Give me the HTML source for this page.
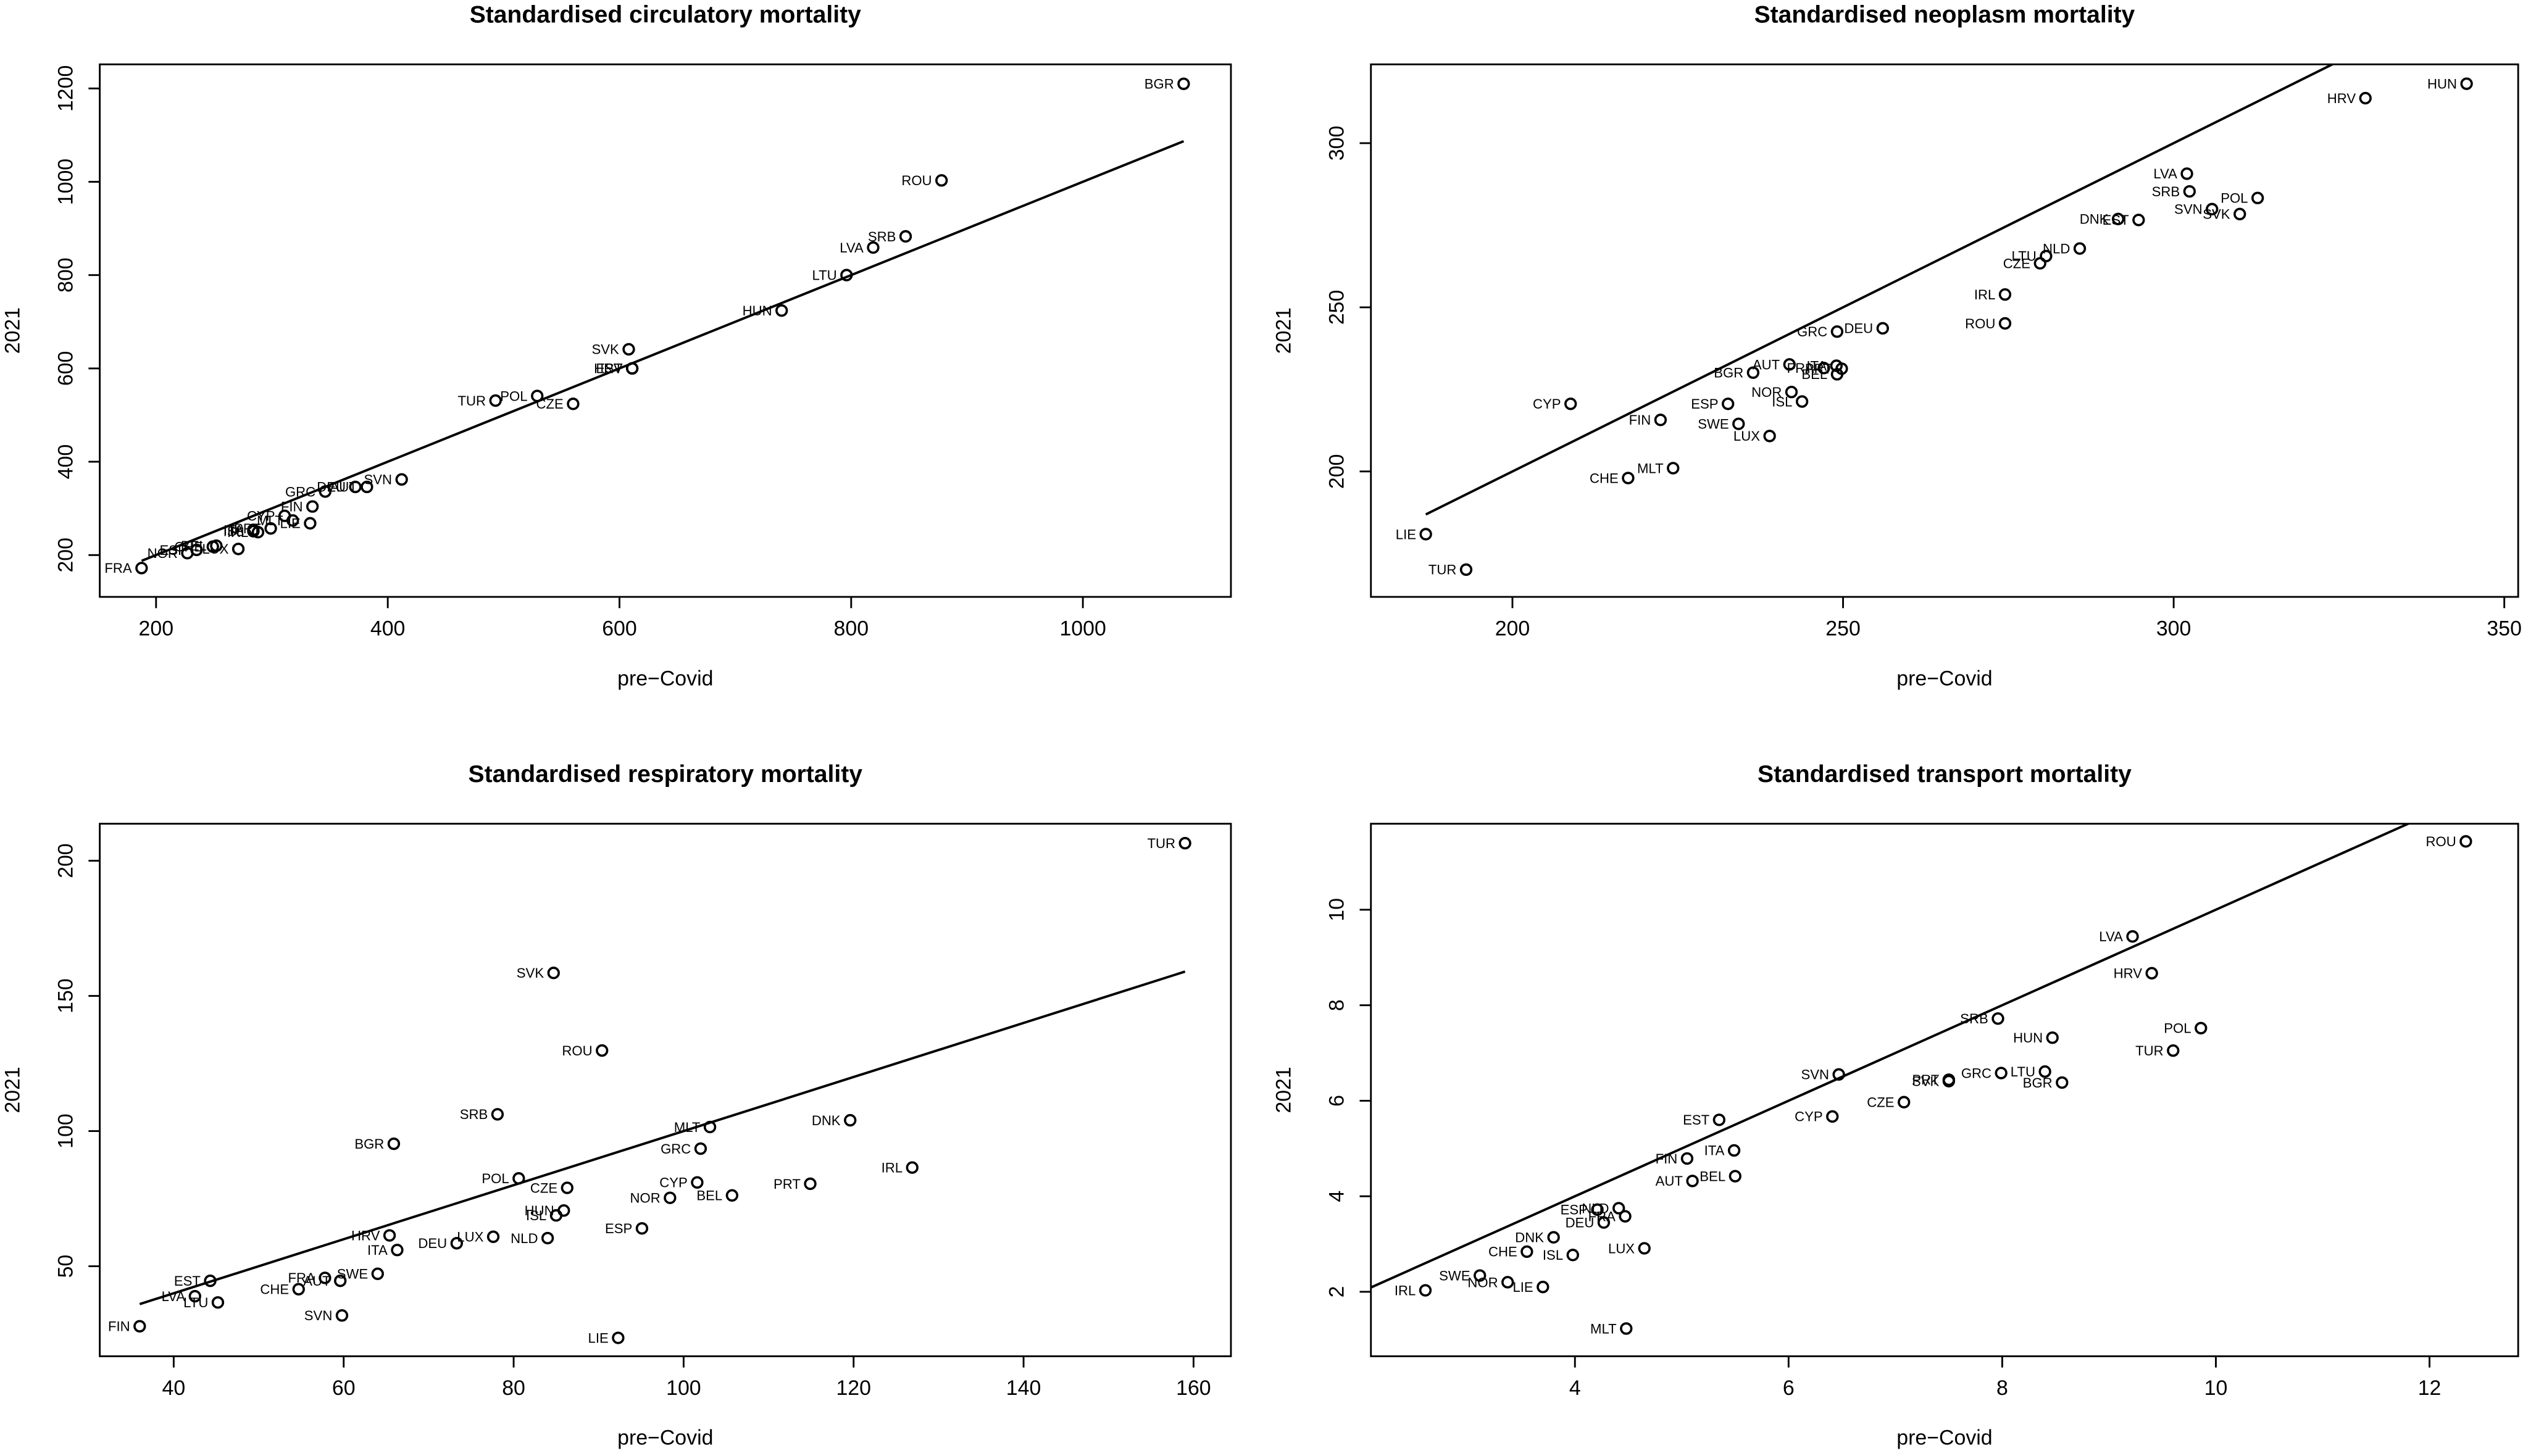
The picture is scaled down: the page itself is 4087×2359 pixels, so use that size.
<!DOCTYPE html>
<html><head><meta charset="utf-8"><title>Standardised mortality scatterplots</title>
<style>
html,body{margin:0;padding:0;background:#fff;}
svg{display:block;font-family:"Liberation Sans",Arial,sans-serif;}
</style></head>
<body>
<svg id="chart" width="4087" height="2359" viewBox="0 0 1568 905" preserveAspectRatio="none" xmlns="http://www.w3.org/2000/svg"></svg>
<script>
// ---------- Panel 1: circulatory ----------
const circCountries = ["BGR","ROU","SRB","LVA","LTU","HUN","SVK","HRV","EST","POL","TUR","CZE","SVN","GRC","DEU","AUT","FIN","CYP","MLT","LIE","ITA","ISL","IRL","PRT","NOR","ESP","CHE","BEL","LUX","FRA"];
const circPre  = [1087,878,847,819,796,740,608,611,611,529,493,560,412,346,372,382,335,311,318,333,284,284,288,299,227,235,249,252,271,187.5];
const circPost = [1210,1003,883,859,800,724,641,600,600,541,531,524,362,336,346,346,304,284,274,268,254,251,249,257,204,211,218,220,213,172];
const circXTicks = [200,400,600,800,1000];
const circYTicks = [200,400,600,800,1000,1200];
const circLine = [187.5,1087];

// ---------- Panel 2: neoplasm ----------
const neoCountries = ["HUN","HRV","LVA","SRB","POL","SVN","SVK","DNK","EST","NLD","LTU","CZE","IRL","ROU","DEU","GRC","AUT","ITA","FRA","PRT","BEL","BGR","NOR","ISL","ESP","SWE","CYP","FIN","LUX","MLT","CHE","LIE","TUR"];
const neoPre  = [344.3,329,302,302.4,312.7,305.8,310,291.6,294.7,285.8,280.7,279.8,274.5,274.5,256,249.1,241.9,249,247.1,249.8,249.1,236.4,242.2,243.8,232.6,234.2,208.8,222.4,238.9,224.3,217.5,186.9,193];
const neoPost = [318.1,313.7,290.7,285.3,283.3,279.9,278.4,276.9,276.6,267.9,265.6,263.4,253.9,245.1,243.6,242.6,232.6,232.2,231.5,231.3,229.6,230.1,224.2,221.3,220.6,214.5,220.6,215.7,210.8,201,198,180.9,170.1];
const neoXTicks = [200,250,300,350];
const neoYTicks = [200,250,300];
const neoLine = [186.9,352];

// ---------- Panel 3: respiratory ----------
const respCountries = ["TUR","SVK","ROU","SRB","BGR","DNK","MLT","GRC","IRL","PRT","POL","CZE","CYP","NOR","BEL","HUN","ISL","ESP","NLD","LUX","DEU","HRV","ITA","SWE","FRA","AUT","CHE","EST","LVA","LTU","SVN","FIN","LIE"];
const respPre  = [159.0,84.7,90.4,78.1,65.9,119.6,103.1,102,126.9,114.9,80.6,86.3,101.6,98.4,105.7,85.9,85,95.1,84,77.6,73.3,65.4,66.3,64,57.8,59.6,54.7,44.3,42.5,45.2,59.8,36,92.3];
const respPost = [206.5,158.5,129.8,106.2,95.3,104,101.5,93.5,86.5,80.5,82.5,79,81,75.3,76.2,70.6,68.8,64,60.4,60.9,58.5,61.4,56,47.2,45.7,44.6,41.5,44.6,38.9,36.6,31.8,27.8,23.5];
const respXTicks = [40,60,80,100,120,140,160];
const respYTicks = [50,100,150,200];
const respLine = [36,159];

// ---------- Panel 4: transport ----------
const transCountries = ["ROU","LVA","HRV","SRB","HUN","POL","TUR","SVN","PRT","SVK","GRC","LTU","BGR","CZE","EST","CYP","ITA","FIN","AUT","BEL","ESP","NLD","FRA","DEU","DNK","CHE","ISL","LUX","SWE","NOR","LIE","IRL","MLT"];
const transPre  = [12.34,9.22,9.4,7.96,8.47,9.86,9.6,6.47,7.5,7.5,7.99,8.4,8.56,7.08,5.35,6.41,5.49,5.05,5.1,5.5,4.21,4.41,4.47,4.27,3.8,3.55,3.98,4.65,3.11,3.37,3.7,2.6,4.48];
const transPost = [11.43,9.44,8.67,7.72,7.32,7.52,7.05,6.55,6.44,6.41,6.58,6.61,6.38,5.97,5.6,5.67,4.96,4.79,4.32,4.42,3.72,3.75,3.58,3.45,3.14,2.84,2.77,2.91,2.34,2.2,2.1,2.03,1.23];
const transXTicks = [4,6,8,10,12];
const transYTicks = [2,4,6,8,10];
const transLine = [1.2,12.4];

const NS = "http://www.w3.org/2000/svg";
const svg = document.getElementById("chart");
function mk(tag, attrs, parent) {
  const e = document.createElementNS(NS, tag);
  for (const k in attrs) e.setAttribute(k, attrs[k]);
  (parent || svg).appendChild(e);
  return e;
}

function drawPanel(cfg) {
  const g = mk("g", {});
  
  
  const sx = v => cfg.x0 + (v - cfg.xmin) / (cfg.xmax - cfg.xmin) * (cfg.x1 - cfg.x0);
  const sy = v => cfg.y1 - (v - cfg.ymin) / (cfg.ymax - cfg.ymin) * (cfg.y1 - cfg.y0);

  const clipId = cfg.name + "-clip";
  const cp = mk("clipPath", {id: clipId}, g);
  mk("rect", {x: cfg.x0, y: cfg.y0, width: cfg.x1 - cfg.x0, height: cfg.y1 - cfg.y0}, cp);

  const t = mk("text", {x: (cfg.x0 + cfg.x1) / 2, y: cfg.y0 - 26, "text-anchor": "middle", "font-size": 15, "font-weight": "bold"}, g);
  t.textContent = cfg.title;
  
  

  const box = mk("rect", {x: cfg.x0, y: cfg.y0, width: cfg.x1 - cfg.x0, height: cfg.y1 - cfg.y0, fill: "none", stroke: "#000", "stroke-width": 1.1}, g);
  
  

  const xa = mk("g", {}, g);
  
  
  cfg.xt.forEach(v => {
    const x = sx(v);
    mk("line", {x1: x, x2: x, y1: cfg.y1, y2: cfg.y1 + 7, stroke: "#000", "stroke-width": 1.1}, xa);
    const tx = mk("text", {x: x, y: cfg.y1 + 24, "text-anchor": "middle", "font-size": 13}, xa);
    tx.textContent = v;
    
    
  });
  const xt = mk("text", {x: (cfg.x0 + cfg.x1) / 2, y: cfg.y1 + 55, "text-anchor": "middle", "font-size": 13}, g);
  xt.textContent = "pre\u2212Covid";
  
  

  const ya = mk("g", {}, g);
  
  
  cfg.yt.forEach(v => {
    const y = sy(v);
    mk("line", {x1: cfg.x0 - 7, x2: cfg.x0, y1: y, y2: y, stroke: "#000", "stroke-width": 1.1}, ya);
    const ty = mk("text", {x: cfg.x0 - 17, y: y, "text-anchor": "middle", "font-size": 13, transform: `rotate(-90 ${cfg.x0 - 17} ${y})`}, ya);
    ty.textContent = v;
    
    
  });
  const yx = cfg.x0 - 50, ym = (cfg.y0 + cfg.y1) / 2;
  const yt = mk("text", {x: yx, y: ym, "text-anchor": "middle", "font-size": 13, transform: `rotate(-90 ${yx} ${ym})`}, g);
  yt.textContent = "2021";
  
  

  const ln = mk("line", {x1: sx(cfg.line[0]), y1: sy(cfg.line[0]), x2: sx(cfg.line[1]), y2: sy(cfg.line[1]), stroke: "#000", "stroke-width": 1.5, "clip-path": `url(#${clipId})`}, g);
  
  

  cfg.names.forEach((c, i) => {
    const px = sx(cfg.pre[i]), py = sy(cfg.post[i]);
    const pt = mk("circle", {cx: px, cy: py, r: 3.2, fill: "none", stroke: "#000", "stroke-width": 1.4}, g);
    
    
    const lb = mk("text", {x: px - 6, y: py + 3, "text-anchor": "end", "font-size": 8.5}, g);
    lb.textContent = c;
    
    
  });
}

drawPanel({name: "circulatory-panel", title: "Standardised circulatory mortality",
  x0: 62, x1: 765, y0: 40, y1: 371, xmin: 151.4, xmax: 1127.8, ymin: 110.3, ymax: 1251.7,
  xt: circXTicks, yt: circYTicks, line: circLine, names: circCountries, pre: circPre, post: circPost});
drawPanel({name: "neoplasm-panel", title: "Standardised neoplasm mortality",
  x0: 852, x1: 1565, y0: 40, y1: 371, xmin: 178.6, xmax: 352.1, ymin: 161.8, ymax: 324.0,
  xt: neoXTicks, yt: neoYTicks, line: neoLine, names: neoCountries, pre: neoPre, post: neoPost});
drawPanel({name: "respiratory-panel", title: "Standardised respiratory mortality",
  x0: 62, x1: 765, y0: 512, y1: 843, xmin: 31.3, xmax: 164.4, ymin: 16.7, ymax: 213.7,
  xt: respXTicks, yt: respYTicks, line: respLine, names: respCountries, pre: respPre, post: respPost});
drawPanel({name: "transport-panel", title: "Standardised transport mortality",
  x0: 852, x1: 1565, y0: 512, y1: 843, xmin: 2.09, xmax: 12.83, ymin: 0.65, ymax: 11.8,
  xt: transXTicks, yt: transYTicks, line: transLine, names: transCountries, pre: transPre, post: transPost});
</script>
</body></html>
